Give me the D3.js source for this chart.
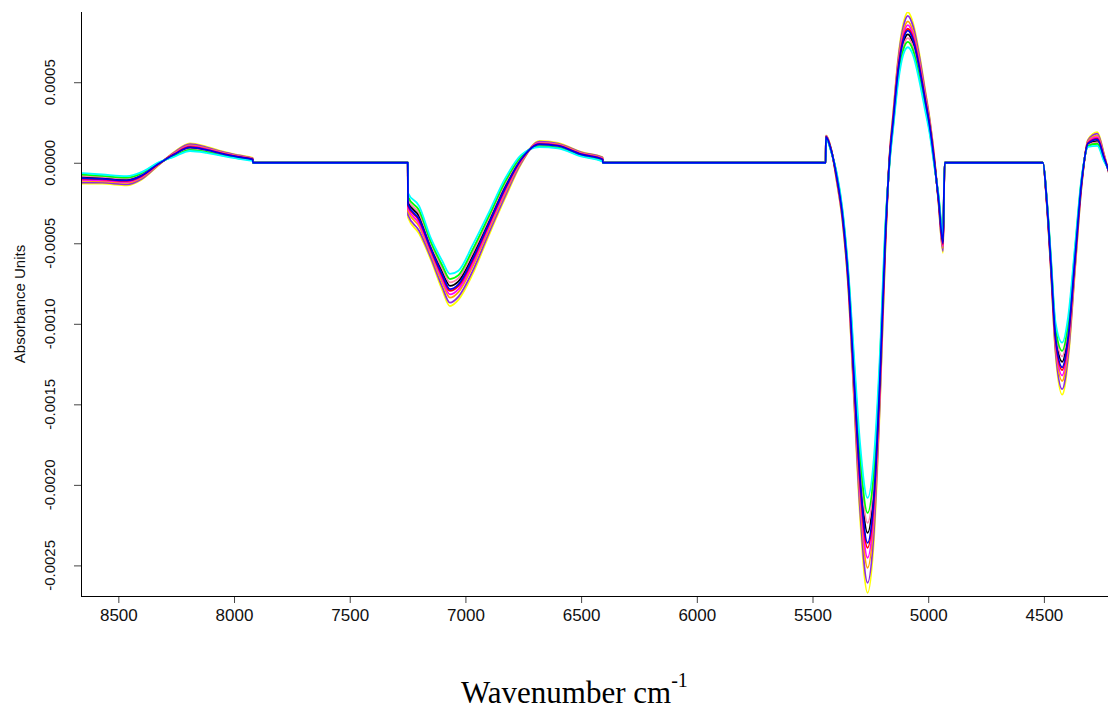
<!DOCTYPE html>
<html>
<head>
<meta charset="utf-8">
<script src="https://cdn.jsdelivr.net/npm/d3@7"></script>
<style>
  body { margin: 0; background: #fff; }
  svg { display: block; }
</style>
</head>
<body>
<div id="spectra"></div>
<script>
// ===== NIR SPECTRA (absorbance, values below are x 1e-4) =====

// wavenumber grid shared by every spectrum (cm-1), flat gaps are the cut regions
var waveNum = [8657, 8570, 8463, 8400, 8330, 8260, 8190, 8120, 8050, 7980, 7919, 7918,
  7249, 7248, 7200, 7150, 7100, 7067, 7030, 6970, 6900, 6830, 6760, 6680, 6600, 6500, 6407, 6406,
  5443, 5442, 5420, 5395, 5370, 5345, 5320, 5295, 5262, 5235, 5209, 5185, 5167, 5151, 5130, 5108, 5088, 5065, 5040, 5015, 4993, 4973, 4955, 4936, 4929,
  4504, 4488, 4470, 4450, 4421, 4395, 4365, 4338, 4309, 4269, 4240, 4215];

var specYellow = [-1.3, -1.3, -1.4, -1.05, -0.2, 0.65, 1.2, 1.0, 0.7, 0.47, 0.3, 0,
  0, -3.4, -4.4, -6.0, -7.9, -8.9, -8.5, -6.95, -4.55, -2.25, -0.1, 1.35, 1.23, 0.67, 0.35, 0,
  0, 1.7, 0.9, -1.2, -3.7, -7.9, -15.0, -21.9, -26.7, -23.5, -15.2, -5.3, 0.5, 3.15, 6.5, 8.6, 9.35, 8.65, 6.9, 4.7, 2.7, 0.3, -2.6, -5.6, 0,
  0, -2.5, -6.7, -11.8, -14.4, -12.2, -6.6, -1.6, 1.45, 1.9, 0.55, -0.9];

var specPurple = [-1.23, -1.24, -1.34, -1.0, -0.18, 0.62, 1.15, 0.96, 0.67, 0.45, 0.28, 0,
  0, -3.24, -4.22, -5.86, -7.71, -8.69, -8.31, -6.76, -4.4, -2.12, -0.04, 1.31, 1.19, 0.64, 0.32, 0,
  0, 1.68, 0.88, -1.14, -3.62, -7.78, -14.7, -21.42, -26.08, -22.96, -14.86, -5.14, 0.44, 3.05, 6.34, 8.4, 9.12, 8.44, 6.72, 4.56, 2.6, 0.24, -2.54, -5.48, 0,
  0, -2.46, -6.6, -11.6, -14.06, -11.92, -6.44, -1.54, 1.4, 1.81, 0.5, -0.86];

var specOrange = [-1.13, -1.15, -1.25, -0.93, -0.15, 0.58, 1.08, 0.9, 0.63, 0.41, 0.25, 0,
  0, -3.0, -3.95, -5.65, -7.43, -8.38, -8.03, -6.48, -4.18, -1.93, 0.05, 1.25, 1.14, 0.6, 0.28, 0,
  0, 1.65, 0.85, -1.05, -3.5, -7.6, -14.25, -20.7, -25.15, -22.15, -14.35, -4.9, 0.35, 2.9, 6.1, 8.1, 8.78, 8.13, 6.45, 4.35, 2.45, 0.15, -2.45, -5.3, 0,
  0, -2.4, -6.45, -11.3, -13.55, -11.5, -6.2, -1.45, 1.33, 1.68, 0.43, -0.8];

var specMagenta = [-1.06, -1.09, -1.19, -0.88, -0.13, 0.55, 1.03, 0.86, 0.6, 0.39, 0.23, 0,
  0, -2.84, -3.77, -5.51, -7.24, -8.17, -7.84, -6.29, -4.03, -1.8, 0.11, 1.21, 1.1, 0.57, 0.25, 0,
  0, 1.63, 0.83, -0.99, -3.42, -7.48, -13.95, -20.22, -24.53, -21.61, -14.01, -4.74, 0.29, 2.8, 5.94, 7.9, 8.55, 7.92, 6.27, 4.21, 2.35, 0.09, -2.39, -5.18, 0,
  0, -2.36, -6.35, -11.1, -13.21, -11.22, -6.04, -1.39, 1.28, 1.59, 0.38, -0.76];

var specRed = [-0.99, -1.03, -1.13, -0.83, -0.11, 0.52, 0.98, 0.82, 0.57, 0.36, 0.21, 0,
  0, -2.68, -3.59, -5.37, -7.05, -7.96, -7.65, -6.1, -3.88, -1.67, 0.17, 1.17, 1.07, 0.54, 0.22, 0,
  0, 1.61, 0.81, -0.93, -3.34, -7.36, -13.65, -19.74, -23.91, -21.07, -13.67, -4.58, 0.23, 2.7, 5.78, 7.7, 8.32, 7.71, 6.09, 4.07, 2.25, 0.03, -2.33, -5.06, 0,
  0, -2.32, -6.25, -10.9, -12.87, -10.94, -5.88, -1.33, 1.23, 1.5, 0.33, -0.72];

var specBlack = [-0.88, -0.94, -1.04, -0.75, -0.08, 0.47, 0.9, 0.76, 0.52, 0.33, 0.18, 0,
  0, -2.44, -3.32, -5.16, -6.76, -7.64, -7.36, -5.81, -3.65, -1.47, 0.26, 1.11, 1.01, 0.49, 0.17, 0,
  0, 1.58, 0.78, -0.84, -3.22, -7.18, -13.2, -19.02, -22.98, -20.26, -13.16, -4.34, 0.14, 2.55, 5.54, 7.4, 7.97, 7.39, 5.82, 3.86, 2.1, -0.06, -2.24, -4.88, 0,
  0, -2.26, -6.1, -10.6, -12.36, -10.52, -5.64, -1.24, 1.15, 1.36, 0.25, -0.66];

var specPink = [-0.81, -0.88, -0.98, -0.7, -0.06, 0.44, 0.85, 0.72, 0.49, 0.3, 0.16, 0,
  0, -2.28, -3.14, -5.02, -6.57, -7.43, -7.17, -5.62, -3.5, -1.34, 0.32, 1.07, 0.98, 0.46, 0.14, 0,
  0, 1.56, 0.76, -0.78, -3.14, -7.06, -12.9, -18.54, -22.36, -19.72, -12.82, -4.18, 0.08, 2.45, 5.38, 7.2, 7.74, 7.18, 5.64, 3.72, 2.0, -0.12, -2.18, -4.76, 0,
  0, -2.22, -6.0, -10.4, -12.02, -10.24, -5.48, -1.18, 1.1, 1.27, 0.2, -0.62];

var specGreen = [-0.74, -0.82, -0.92, -0.65, -0.04, 0.41, 0.8, 0.68, 0.46, 0.28, 0.14, 0,
  0, -2.12, -2.96, -4.88, -6.38, -7.22, -6.98, -5.43, -3.35, -1.21, 0.38, 1.03, 0.94, 0.43, 0.11, 0,
  0, 1.54, 0.74, -0.72, -3.06, -6.94, -12.6, -18.06, -21.74, -19.18, -12.48, -4.02, 0.02, 2.35, 5.22, 7.0, 7.51, 6.97, 5.46, 3.58, 1.9, -0.18, -2.12, -4.64, 0,
  0, -2.18, -5.9, -10.2, -11.68, -9.96, -5.32, -1.12, 1.05, 1.18, 0.15, -0.58];

var specCyan = [-0.64, -0.73, -0.83, -0.58, -0.01, 0.37, 0.73, 0.62, 0.42, 0.24, 0.11, 0,
  0, -1.88, -2.69, -4.67, -6.1, -6.9, -6.7, -5.15, -3.13, -1.02, 0.47, 0.97, 0.89, 0.39, 0.07, 0,
  0, 1.51, 0.71, -0.63, -2.94, -6.76, -12.15, -17.34, -20.81, -18.37, -11.97, -3.78, -0.07, 2.2, 4.98, 6.7, 7.17, 6.66, 5.19, 3.37, 1.75, -0.27, -2.03, -4.46, 0,
  0, -2.12, -5.75, -9.9, -11.17, -9.54, -5.08, -1.03, 0.98, 1.05, 0.08, -0.52];

var specBlue = [-0.95, -1.0, -1.1, -0.8, -0.1, 0.5, 0.95, 0.8, 0.55, 0.35, 0.2, 0,
  0, -2.6, -3.5, -5.3, -6.95, -7.85, -7.55, -6.0, -3.8, -1.6, 0.2, 1.15, 1.05, 0.52, 0.2, 0,
  0, 1.6, 0.8, -0.9, -3.3, -7.3, -13.5, -19.5, -23.6, -20.8, -13.5, -4.5, 0.2, 2.65, 5.7, 7.6, 8.2, 7.6, 6.0, 4.0, 2.2, 0.0, -2.3, -5.0, 0,
  0, -2.3, -6.2, -10.8, -12.7, -10.8, -5.8, -1.3, 1.2, 1.45, 0.3, -0.7];

// drawing order, blue ends up on top like in the original plot
var spectra = [specYellow, specPurple, specOrange, specMagenta, specRed, specBlack, specPink, specGreen, specCyan, specBlue];
var lineColors = ["#ffff00", "#8a2be2", "#ffa500", "#ff00ff", "#ff0000", "#000000", "#ff82ab", "#00ff00", "#00ffff", "#0000ee"];

var xTicks = [8500, 8000, 7500, 7000, 6500, 6000, 5500, 5000, 4500];
var yTicks = [-0.0025, -0.0020, -0.0015, -0.0010, -0.0005, 0.0000, 0.0005];

function spectra_plot()
{
  var w = 1108;
  var h = 715;
  var left = 82, right = 1108, top = 12, bottom = 596;

  var svg = d3.select("#spectra")
              .append("svg")
              .attr("width", w)
              .attr("height", h);

  // wavenumbers run high to low, like the instrument software
  var xScale = d3.scaleLinear()
                 .domain([8657, 4223])
                 .range([left, right]);

  var yScale = d3.scaleLinear()
                 .domain([-0.00269, 0.000936])
                 .range([bottom, top]);

  svg.append("clipPath")
     .attr("id", "plotArea")
     .append("rect")
     .attr("x", left)
     .attr("y", top)
     .attr("width", right - left)
     .attr("height", bottom - top);

  var line = d3.line()
               .x(function(d) { return xScale(d[0]); })
               .y(function(d) { return yScale(d[1] * 1e-4); })
               .curve(d3.curveMonotoneX);

  var lines = svg.append("g")
                 .attr("clip-path", "url(#plotArea)");

  lines.selectAll("path")
       .data(spectra)
       .enter()
       .append("path")
       .attr("d", function(s) {
         return line(s.map(function(v, i) { return [waveNum[i], v]; }));
       })
       .attr("fill", "none")
       .attr("stroke", function(d, i) { return lineColors[i]; })
       .attr("stroke-width", 1.8)
       .attr("stroke-linejoin", "round");

  // x axis
  var xAxis = d3.axisBottom(xScale)
                .tickValues(xTicks)
                .tickSize(7)
                .tickPadding(6)
                .tickFormat(function(d) { return d; });

  var gx = svg.append("g")
              .attr("transform", "translate(0," + bottom + ")")
              .call(xAxis);
  gx.select(".domain").remove();
  gx.selectAll(".tick line").attr("stroke", "#444");
  gx.selectAll("text")
    .attr("font-family", "Liberation Sans, Arial, sans-serif")
    .attr("font-size", "17px")
    .attr("fill", "#111");

  svg.append("line")
     .attr("x1", left - 1).attr("x2", right)
     .attr("y1", bottom + 0.5).attr("y2", bottom + 0.5)
     .attr("stroke", "#000");

  // y axis, labels turned sideways
  var gy = svg.append("g")
              .attr("transform", "translate(" + left + ",0)");

  gy.append("line")
    .attr("x1", -0.5).attr("x2", -0.5)
    .attr("y1", top).attr("y2", bottom)
    .attr("stroke", "#000");

  gy.selectAll("line.tick")
    .data(yTicks)
    .enter()
    .append("line")
    .attr("class", "tick")
    .attr("x1", -8).attr("x2", -1)
    .attr("y1", function(d) { return yScale(d) + 0.5; })
    .attr("y2", function(d) { return yScale(d) + 0.5; })
    .attr("stroke", "#444");

  gy.selectAll("text.tick")
    .data(yTicks)
    .enter()
    .append("text")
    .attr("class", "tick")
    .attr("transform", function(d) { return "translate(-27," + yScale(d) + ") rotate(-90)"; })
    .attr("text-anchor", "middle")
    .attr("font-family", "Liberation Sans, Arial, sans-serif")
    .attr("font-size", "15px")
    .attr("fill", "#111")
    .text(function(d) { return d.toFixed(4); });

  svg.append("text")
     .attr("transform", "translate(25," + ((top + bottom) / 2) + ") rotate(-90)")
     .attr("text-anchor", "middle")
     .attr("font-family", "Liberation Sans, Arial, sans-serif")
     .attr("font-size", "15px")
     .attr("fill", "#111")
     .text("Absorbance Units");

  // axis title with superscript
  var title = svg.append("text")
                 .attr("x", 461)
                 .attr("y", 703)
                 .attr("font-family", "Liberation Serif, Times New Roman, serif")
                 .attr("font-size", "31px")
                 .attr("fill", "#000");
  title.append("tspan").text("Wavenumber cm");
  title.append("tspan")
       .attr("dy", -16)
       .attr("font-size", "20px")
       .text("-1");
}

window.onload = spectra_plot;
</script>
</body>
</html>
